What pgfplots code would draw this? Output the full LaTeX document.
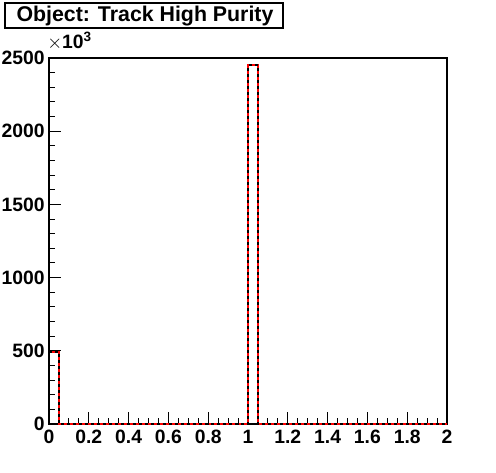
\documentclass[border=0pt]{standalone}
\usepackage{fontspec}
\setmainfont{Liberation Sans}
\usepackage{pgfplots}
\pgfplotsset{compat=1.18}
\begin{document}
\begin{tikzpicture}[x=0.75pt,y=0.75pt]
\useasboundingbox (0,0) rectangle (496,472);
\begin{axis}[
  at={(36.75pt,36pt)}, anchor=south west,
  scale only axis, width=298.5pt, height=274.5pt,
  xmin=0, xmax=2, ymin=0, ymax=2500,
  axis line style={line width=0.8pt},
  xtick={0,0.2,...,2.01}, minor x tick num=3,
  ytick={0,500,...,2500}, minor y tick num=4,
  xticklabels={0,0.2,0.4,0.6,0.8,1,1.2,1.4,1.6,1.8,2},
  yticklabels={0,500,1000,1500,2000,2500},
  tick align=inside, xtick pos=bottom, ytick pos=left,
  major tick length=9pt, minor tick length=4.5pt,
  every tick/.style={black,line width=0.8pt},
  tick label style={font=\bfseries\fontsize{14.5}{15}\selectfont, inner sep=0pt},
  yticklabel style={xshift=-3pt},
  xticklabel style={yshift=-4.5pt},
  clip=false,
]
\addplot[const plot, red, line width=1.6pt] coordinates {
(0,490) (0.05,0) (0.1,0) (0.15,0) (0.2,0) (0.25,0) (0.3,0) (0.35,0) (0.4,0) (0.45,0)
(0.5,0) (0.55,0) (0.6,0) (0.65,0) (0.7,0) (0.75,0) (0.8,0) (0.85,0) (0.9,0) (0.95,0)
(1.0,2450) (1.05,0) (1.1,0) (1.15,0) (1.2,0) (1.25,0) (1.3,0) (1.35,0) (1.4,0) (1.45,0)
(1.5,0) (1.55,0) (1.6,0) (1.65,0) (1.7,0) (1.75,0) (1.8,0) (1.85,0) (1.9,0) (1.95,0)
(2.0,0)};
\addplot[const plot, black, line width=1.6pt, dash pattern=on 2.25pt off 2.25pt] coordinates {
(0,490) (0.05,0) (0.1,0) (0.15,0) (0.2,0) (0.25,0) (0.3,0) (0.35,0) (0.4,0) (0.45,0)
(0.5,0) (0.55,0) (0.6,0) (0.65,0) (0.7,0) (0.75,0) (0.8,0) (0.85,0) (0.9,0) (0.95,0)
(1.0,2450) (1.05,0) (1.1,0) (1.15,0) (1.2,0) (1.25,0) (1.3,0) (1.35,0) (1.4,0) (1.45,0)
(1.5,0) (1.55,0) (1.6,0) (1.65,0) (1.7,0) (1.75,0) (1.8,0) (1.85,0) (1.9,0) (1.95,0)
(2.0,0)};
\end{axis}
\node[anchor=west, inner sep=0pt, font=\bfseries\fontsize{14.5}{15}\selectfont] at (47,431) {$\times$10\textsuperscript{3}};
\draw[line width=0.8pt, fill=white] (5,444) rectangle (283,469);
\node[font=\bfseries\fontsize{16}{18}\selectfont] at (145,456) {Object: Track High Purity};
\end{tikzpicture}
\end{document}
